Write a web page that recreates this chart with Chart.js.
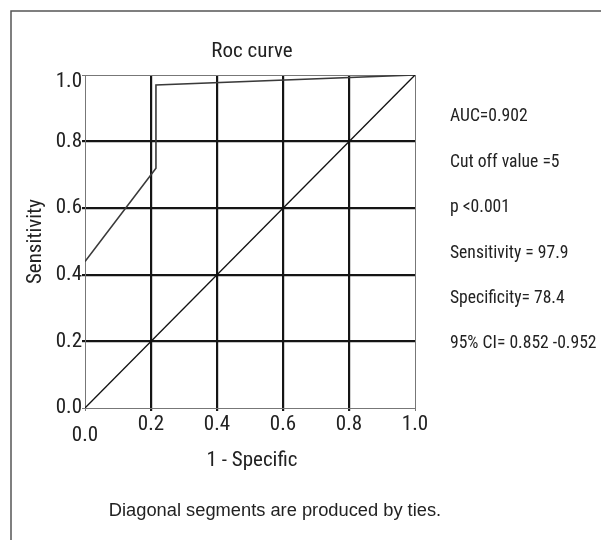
<!DOCTYPE html>
<html><head><meta charset="utf-8">
<script src="https://cdn.jsdelivr.net/npm/chart.js@4"></script>
<style>html,body{margin:0;padding:0;background:#fff}#wrap{width:601px;height:540px}</style>
</head><body><div id="wrap"><canvas id="c" width="601" height="540"></canvas></div>
<script>
// ROC curve points (1 - specificity, sensitivity)
const rocX = [0, 0.215, 0.215, 1.0];
const rocY = [0.44, 0.72, 0.97, 1.0];
// reference diagonal
const refX = [0, 1];
const refY = [0, 1];
const tickValues = [0, 0.2, 0.4, 0.6, 0.8, 1.0];
const chartTitle = 'Roc curve';
const xTitle = '1 - Specific';
const yTitle = 'Sensitivity';
const statLines = ['AUC=0.902', 'Cut off value =5', 'p <0.001', 'Sensitivity = 97.9', 'Specificity= 78.4', '95% CI= 0.852 -0.952'];
const footnote = 'Diagonal segments are produced by ties.';

const NARROW = '"Roboto Condensed", "Liberation Sans Narrow", "Liberation Sans", sans-serif';
const REG = '"Liberation Sans", Arial, sans-serif';

const toPts = (xs, ys) => xs.map((x, i) => ({x: x, y: ys[i]}));

const gridColor = ctx => (ctx.tick && (ctx.tick.value === 0 || ctx.tick.value === 1)) ? '#777' : '#151515';
const gridWidth = ctx => (ctx.tick && (ctx.tick.value === 0 || ctx.tick.value === 1)) ? 1 : 2.2;

const decor = {
  id: 'decor',
  beforeDraw(chart) {
    const c = chart.ctx;
    c.save();
    c.fillStyle = '#fff';
    c.fillRect(0, 0, chart.width, chart.height);
    c.restore();
  },
  afterDraw(chart) {
    const c = chart.ctx, a = chart.chartArea;
    c.save();
    // frame
    c.strokeStyle = '#555';
    c.lineWidth = 1.5;
    c.beginPath();
    c.moveTo(11, 540); c.lineTo(11, 11); c.lineTo(601, 11);
    c.stroke();
    c.fillStyle = '#222';
    c.textBaseline = 'middle';
    c.textAlign = 'center';
    const cx = (a.left + a.right) / 2;
    c.font = '21px ' + NARROW;
    c.fillText(chartTitle, cx + 2, 52);
    c.fillText(xTitle, cx + 2, 461);
    c.save();
    c.translate(36, (a.top + a.bottom) / 2);
    c.rotate(-Math.PI / 2);
    c.fillText(yTitle, 0, 0);
    c.restore();
    c.font = '18.3px ' + REG;
    c.fillText(footnote, 275, 511);
    c.textAlign = 'left';
    c.font = '17.6px ' + NARROW;
    statLines.forEach((s, i) => c.fillText(s, 450, 117 + i * 45.4));
    c.restore();
  }
};

new Chart(document.getElementById('c'), {
  type: 'line',
  data: {
    datasets: [
      {data: toPts(refX, refY), borderColor: '#111', borderWidth: 1.3, pointRadius: 0, tension: 0, fill: false},
      {data: toPts(rocX, rocY), borderColor: '#3a3a3a', borderWidth: 1.6, pointRadius: 0, tension: 0, fill: false}
    ]
  },
  options: {
    responsive: false,
    animation: false,
    devicePixelRatio: 1,
    layout: {padding: {left: 0, top: 75, right: 186, bottom: 0}},
    plugins: {legend: {display: false}, title: {display: false}, tooltip: {enabled: false}},
    scales: {
      x: {
        type: 'linear', min: 0, max: 1,
        afterBuildTicks: s => { s.ticks = tickValues.map(v => ({value: v})); },
        afterFit: s => { s.height = 132; },
        grid: {color: gridColor, lineWidth: gridWidth, drawTicks: true, tickLength: 3, tickColor: gridColor, tickWidth: gridWidth},
        border: {display: true, color: '#777', width: 1},
        ticks: {
          color: '#222', padding: 8, maxRotation: 0, autoSkip: false,
          font: {family: NARROW, size: 21, lineHeight: '11px'},
          callback: v => v === 0 ? ['', '0.0'] : v.toFixed(1)
        }
      },
      y: {
        type: 'linear', min: 0, max: 1,
        afterBuildTicks: s => { s.ticks = tickValues.map(v => ({value: v})); },
        afterFit: s => { s.width = 85; },
        grid: {color: gridColor, lineWidth: gridWidth, drawTicks: true, tickLength: 3, tickColor: gridColor, tickWidth: gridWidth},
        border: {display: true, color: '#777', width: 1},
        ticks: {
          color: '#222', padding: 0, autoSkip: false,
          font: {family: NARROW, size: 21, lineHeight: '14px'},
          callback: v => v === 1 ? ['', '1.0'] : v.toFixed(1)
        }
      }
    }
  },
  plugins: [decor]
});
</script>
</body></html>
